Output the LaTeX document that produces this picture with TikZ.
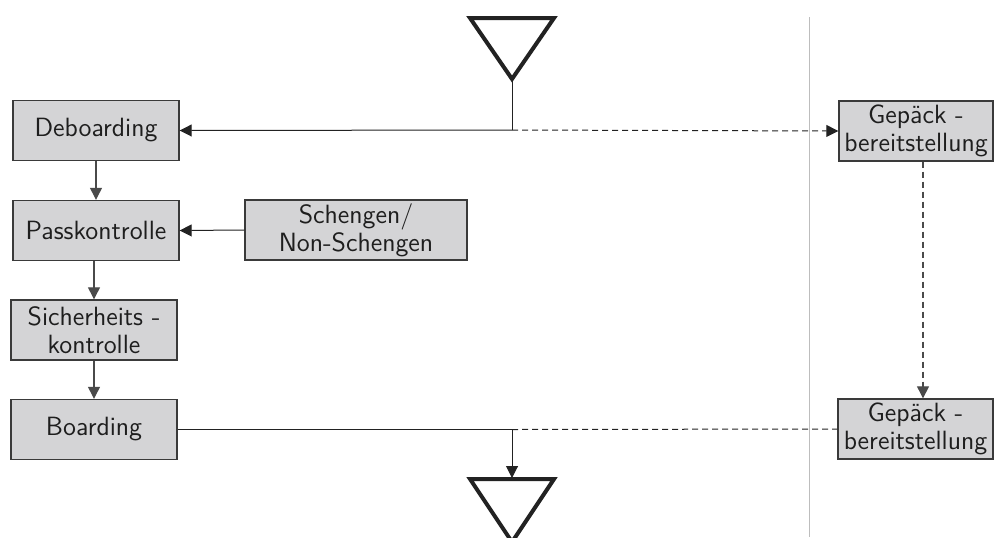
\documentclass[tikz,border=0pt]{standalone}
\usepackage{fontspec}
\usetikzlibrary{arrows.meta}
\definecolor{boxfill}{HTML}{D4D4D6}
\definecolor{boxline}{HTML}{3A3A3A}
\definecolor{linecol}{HTML}{222222}
\definecolor{vcol}{HTML}{4A4A4A}
\definecolor{sepcol}{HTML}{BDBDBD}
\definecolor{txtcol}{HTML}{1E1E1E}
\begin{document}
\begin{tikzpicture}[x=0.5pt,y=-0.5pt,
  procbox/.style={draw=boxline, fill=boxfill, line width=0.7pt, minimum width=83pt, minimum height=30pt,
    inner sep=0pt, align=center, text=txtcol, font=\sffamily\fontsize{13.2}{13.8}\selectfont},
  conn/.style={draw=linecol, line width=0.5pt},
  vconn/.style={draw=vcol, line width=0.6pt},
  tip/.style={-{Triangle[length=6pt,width=6pt]}},
  dashline/.style={dash pattern=on 3pt off 2pt},
  tri/.style={draw=linecol, line width=2pt, line join=miter}]
\useasboundingbox (0,0) rectangle (994,537);
% separator
\draw[draw=sepcol, line width=0.5pt] (809,17) -- (809,537);
% boxes
\node[procbox] (deb) at (96,130.5) {Deboarding};
\node[procbox] (pass) at (96,230.5) {Passkontrolle};
\node[procbox] (sich) at (94,330) {Sicherheits -\\kontrolle};
\node[procbox] (board) at (94,429.5) {Boarding};
\node[procbox, minimum width=111pt] (sch) at (356,230) {Schengen/\\Non-Schengen};
\node[procbox, minimum width=77pt] (gep1) at (916,131) {Gepäck -\\bereitstellung};
\node[procbox, minimum width=77.5pt] (gep2) at (915.5,429) {Gepäck -\\bereitstellung};
% triangles
\coordinate (t1apex) at (512,79);
\draw[tri] (470,18) -- (554,18) -- (t1apex) -- cycle;
\coordinate (t2top) at (512,478);
\draw[tri] (470,479) -- (554,479) -- (512,542) -- cycle;
% junctions
\coordinate (j1) at (512,130);
\coordinate (j2) at (512,429.5);
% connectors
\draw[conn] (t1apex) -- (j1);
\draw[conn, tip] (j1) -- (deb.east);
\draw[conn, dashline, tip] (j1) -- (gep1.west);
\draw[vconn, tip] (deb.south) -- (pass.north);
\draw[vconn, tip] ([xshift=-1pt]pass.south) -- ([xshift=-1pt]pass.south |- sich.north);
\draw[vconn, tip] (sich.south) -- (board.north);
\draw[conn, tip] (sch.west) -- (pass.east);
\draw[conn] (board.east) -- (j2);
\draw[conn, tip] (j2) -- (t2top);
\draw[conn, dashline] (j2) -- (gep2.west);
\draw[vconn, dashline, tip] ([xshift=3.5pt]gep1.south) -- ([xshift=3.5pt]gep1.south |- gep2.north);
\end{tikzpicture}
\end{document}
